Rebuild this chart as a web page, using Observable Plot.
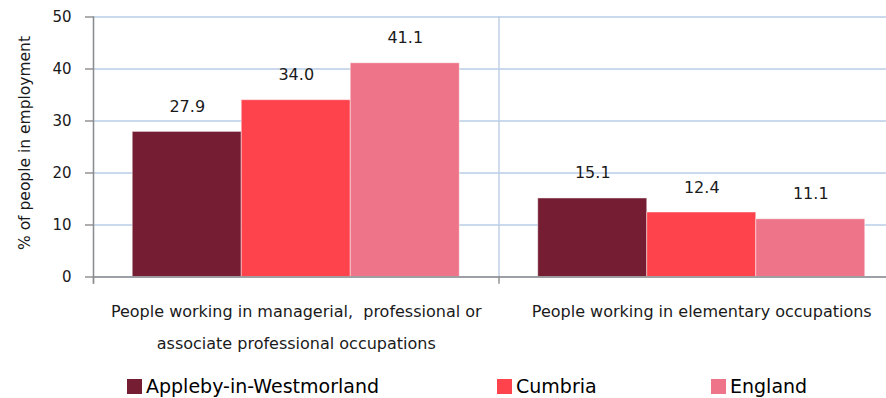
<!DOCTYPE html>
<html>
<head>
<meta charset="utf-8">
<script src="https://cdn.jsdelivr.net/npm/d3@7"></script>
<script src="https://cdn.jsdelivr.net/npm/@observablehq/plot@0.6"></script>
<style>
  html, body { margin: 0; padding: 0; background: #fff; overflow: hidden; }
  #wrap { position: relative; width: 886px; height: 398px; overflow: hidden; font-family: "DejaVu Sans", sans-serif; }
  #chart svg { display: block; max-width: none !important; }
  .leg { position: absolute; top: 375px; display: flex; align-items: center; font-size: 19px; color: #000; white-space: nowrap; }
  .leg .sw { width: 15px; height: 15px; margin-right: 4px; }
</style>
</head>
<body>
<div id="wrap">
  <div id="chart"></div>
  <div id="legend"></div>
</div>
<script>
const categories = [
  "People working in managerial, professional or associate professional occupations",
  "People working in elementary occupations"
];
const categoryLabels = [
  "People working in managerial,  professional or\nassociate professional occupations",
  "People working in elementary occupations"
];
const series = ["Appleby-in-Westmorland", "Cumbria", "England"];
const appleby = [27.9, 15.1];
const cumbria = [34.0, 12.4];
const england = [41.1, 11.1];
const colors = ["#741d33", "#fe434d", "#ee7489"];
const yTicks = [0, 10, 20, 30, 40, 50];
const yLabel = "% of people in employment";

const seriesValues = [appleby, cumbria, england];
const rows = [];
categories.forEach((c, ci) => {
  series.forEach((s, si) => rows.push({category: c, area: s, value: seriesValues[si][ci]}));
});
const labelRows = categories.map((c, i) => ({category: c, label: categoryLabels[i]}));

const chart = Plot.plot({
  width: 904,
  height: 372,
  marginLeft: 93,
  marginRight: 0,
  marginTop: 16.5,
  marginBottom: 95.5,
  style: {fontFamily: "'DejaVu Sans', sans-serif", background: "white", overflow: "visible"},
  fx: {domain: categories, padding: 0, round: false, axis: null},
  x: {domain: series, paddingInner: 0, paddingOuter: 0.36, round: false, axis: null},
  y: {domain: [0, 50]},
  color: {domain: series, range: colors},
  marks: [
    Plot.gridY(yTicks, {stroke: "#b9cde5", strokeOpacity: 1, strokeWidth: 1.4}),
    Plot.frame({anchor: "left", stroke: "#b9cde5", strokeWidth: 1.4}),
    Plot.frame({anchor: "left", stroke: "#8c8c8c", strokeWidth: 1.4, insetTop: 260, insetBottom: -6}),
    Plot.barY(rows, {fx: "category", x: "area", y: "value", fill: "area", stroke: "white", strokeOpacity: 0.45, strokeWidth: 1}),
    Plot.ruleY([0], {stroke: "#8c8c8c", strokeWidth: 1.4}),
    Plot.frame({anchor: "left", stroke: "#8c8c8c", strokeWidth: 1.4, insetBottom: -6, facetAnchor: "left"}),
    Plot.axisY({
      ticks: yTicks, tickSize: 8, tickPadding: 14, stroke: "#8c8c8c", strokeWidth: 1.4,
      fontSize: 15, fill: "#1a1a1a", label: null
    }),
    Plot.text([yLabel], {
      text: d => d, frameAnchor: "left", textAnchor: "middle", lineAnchor: "middle",
      rotate: -90, dx: -68, dy: -4, fontSize: 15.5, fill: "#1a1a1a", facetAnchor: "left"
    }),
    Plot.text(rows, {
      fx: "category", x: "area", y: "value", text: d => d.value.toFixed(1),
      lineAnchor: "bottom", dy: -20, fontSize: 16, fill: "#1a1a1a"
    }),
    Plot.text(labelRows, {
      fx: "category", text: "label", frameAnchor: "bottom", lineAnchor: "top",
      dy: 17, lineHeight: 2.0, fontSize: 16, fill: "#1a1a1a"
    })
  ]
});
document.getElementById("chart").appendChild(chart);

// Legend
const legendLeft = [127, 497, 711];
const legend = document.getElementById("legend");
series.forEach((s, i) => {
  const item = document.createElement("div");
  item.className = "leg";
  item.style.left = legendLeft[i] + "px";
  const sw = document.createElement("span");
  sw.className = "sw";
  sw.style.background = colors[i];
  const t = document.createElement("span");
  t.textContent = s;
  item.appendChild(sw);
  item.appendChild(t);
  legend.appendChild(item);
});
</script>
</body>
</html>
